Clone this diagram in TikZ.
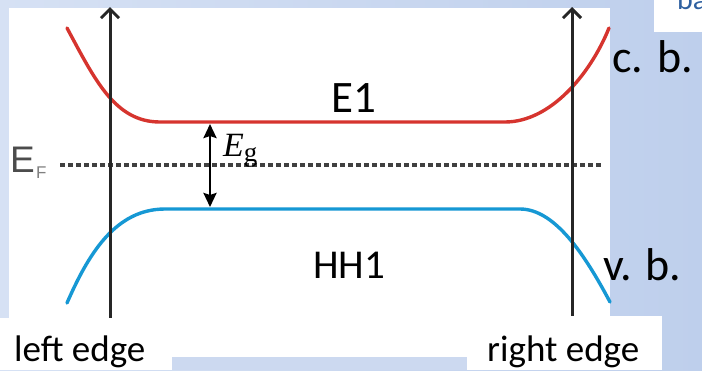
\documentclass[tikz,border=0pt]{standalone}
\usepackage{fontspec}
\setmainfont{Carlito}
\newfontfamily\helv{Liberation Sans}
\newfontfamily\tims{Liberation Serif}
\usetikzlibrary{arrows.meta, positioning}

\definecolor{slideL}{RGB}{214,225,244}
\definecolor{slideR}{RGB}{190,207,236}
\definecolor{slidebg}{RGB}{204,217,240}
\definecolor{cbred}{RGB}{214,52,46}
\definecolor{vbblue}{RGB}{22,152,212}
\definecolor{titleblue}{RGB}{46,96,160}

\begin{document}
\begin{tikzpicture}[
    x=1pt, y=-1pt,
    >={Stealth[length=14pt, width=13pt, inset=2pt]},
    band/.style  = {line width=3.4pt, line cap=round},
    axis/.style  = {-{Straight Barb[length=9pt, width=18pt]}, draw=black!85, line width=3pt},
    fermi/.style = {draw=black!75, line width=3.2pt, dash pattern=on 5pt off 3pt},
    lbl/.style   = {inner sep=0pt, anchor=base west},
    tag/.style   = {inner sep=0pt, anchor=base west, font=\fontsize{37}{40}\selectfont}
  ]

  % --- slide background and panels ---
  \useasboundingbox (0,0) rectangle (702,370);
  \shade[left color=slideL, right color=slideR] (0,0) rectangle (702,370);
  \fill[white] (9,8) rectangle (610,318);
  \fill[white] (654,0) rectangle (702,32);
  \node[lbl, font=\fontsize{30}{34}\selectfont, text=titleblue] (ba) at (677,9) {ba};

  % --- bands ---
  \draw[band, cbred] (67,28) .. controls (95,80) and (115,122) .. (160,122)
        -- (505,122) .. controls (550,122) and (590,75) .. (609,28);
  \draw[band, vbblue] (67,303) .. controls (88,255) and (115,209) .. (165,209)
        -- (520,209) .. controls (555,209) and (585,255) .. (610,302);

  % --- Fermi level ---
  \coordinate (EFl) at (60,165);
  \coordinate (EFr) at (603,165);
  \draw[fermi] (EFl) -- (EFr);
  \node[lbl, font=\helv\fontsize{37}{40}\selectfont, text=black!70] (EF) at (10,172) {E};
  \node[lbl, font=\helv\fontsize{17}{18}\selectfont, text=black!50] (EFsub) at (36,178) {F};

  % --- edge axes ---
  \coordinate (Lbot) at (110,318);
  \coordinate (Ltop) at (110,7);
  \coordinate (Rbot) at (572,318);
  \coordinate (Rtop) at (572,7);
  \draw[axis] (Lbot) -- (Ltop);
  \draw[axis] (Rbot) -- (Rtop);

  % --- gap arrow ---
  \coordinate (gTop) at (210,124);
  \coordinate (gBot) at (210,207);
  \draw[<->, line width=2.5pt] (gTop) -- (gBot);
  \node[lbl, font=\tims\fontsize{34}{38}\selectfont] (Eg) at (223,156)
       {\itshape E\/\upshape\fontsize{27}{30}\selectfont\raisebox{-5pt}{g}};

  % --- level labels ---
  \node[lbl, font=\fontsize{45}{50}\selectfont] (E1) at (331,112) {E1};
  \node[lbl, font=\fontsize{41}{45}\selectfont] (HH1) at (313,278) {HH1};
  \node[lbl, font=\fontsize{46}{50}\selectfont] (cb) at (612,72) {c. b.};
  \node[lbl, font=\fontsize{46}{50}\selectfont] (vb) at (603,280) {v. b.};

  % --- bottom captions ---
  \fill[white] (0,318) rectangle (662,370);
  \fill[white] (468,316) rectangle (662,318);
  \fill[slidebg] (172,357) rectangle (467,370);
  \node[tag] (left) at (14,361) {left edge};
  \node[tag] (right) at (487,361) {right edge};

\end{tikzpicture}
\end{document}
